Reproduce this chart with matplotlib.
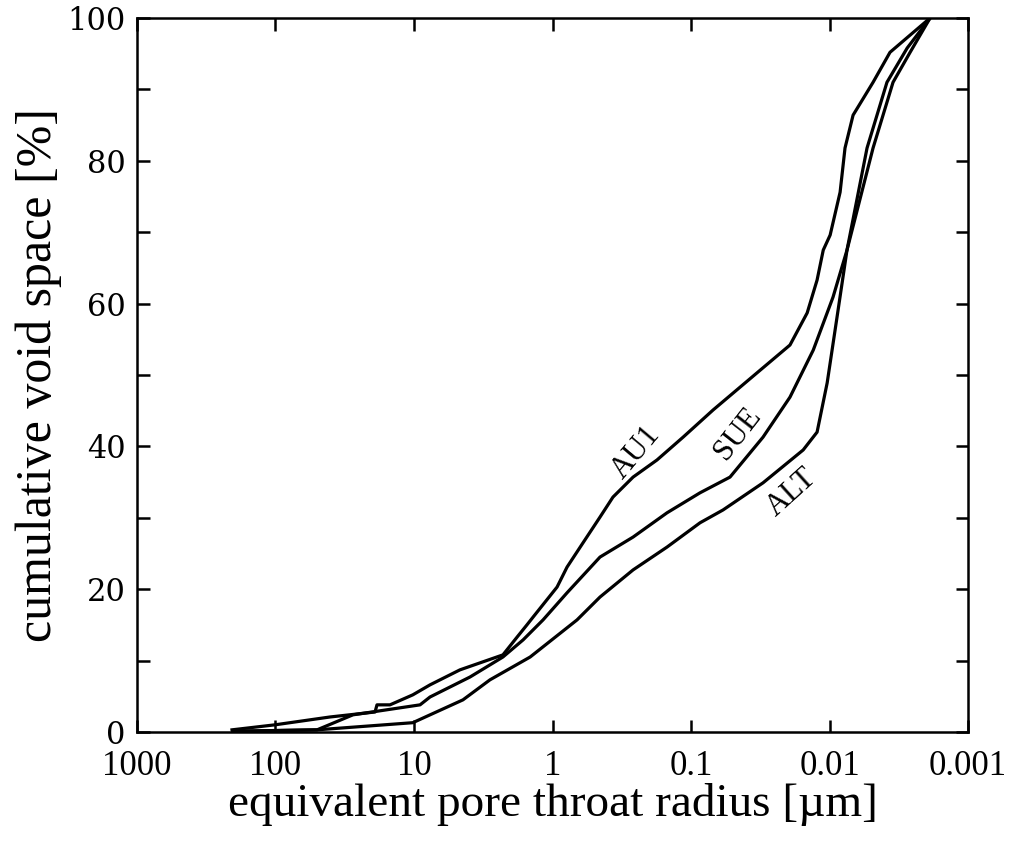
import numpy as np
import matplotlib
matplotlib.use("Agg")
import matplotlib.pyplot as plt
from matplotlib.ticker import FixedLocator, FuncFormatter, NullLocator

# pore throat radius [um] and cumulative void space [%]
au1_r = [206, 101, 40.4, 19.1, 18.5, 14.9, 10.2, 7.66, 4.66, 2.28, 1.80, 1.53, 1.38,
         0.927, 0.785, 0.602, 0.454, 0.366, 0.262, 0.176, 0.114, 0.0693, 0.0334,
         0.0193, 0.0145, 0.0123, 0.0111, 0.0099, 0.00839, 0.00773, 0.00676,
         0.00485, 0.00366, 0.00188]
au1_v = [0.3, 1.0, 2.1, 2.8, 3.8, 3.8, 5.2, 6.6, 8.7, 10.8, 13.3, 15.0, 16.1,
         20.3, 23.1, 26.5, 30.1, 32.9, 35.7, 38.1, 41.3, 45.1, 50.3,
         54.2, 58.7, 63.3, 67.5, 69.6, 75.6, 81.8, 86.4,
         91.0, 95.2, 100]

sue_r = [203, 50.1, 27.6, 9.04, 7.66, 3.94, 2.28, 1.63, 1.17, 0.785, 0.454, 0.262,
         0.149, 0.0861, 0.0523, 0.0302, 0.0193, 0.0131, 0.00944, 0.00748,
         0.00485, 0.00348, 0.00262, 0.00188]
sue_v = [0.1, 0.3, 2.4, 3.8, 4.9, 7.7, 10.5, 12.9, 15.7, 19.5, 24.5, 27.3,
         30.7, 33.5, 35.7, 41.3, 46.9, 53.5, 60.9, 67.5,
         81.8, 91.0, 95.2, 100]

alt_r = [203, 50.1, 10.2, 7.66, 4.43, 2.83, 1.45, 0.665, 0.454, 0.262, 0.149,
         0.0861, 0.0587, 0.0302, 0.0155, 0.0123, 0.0104, 0.00883, 0.00748,
         0.00536, 0.00385, 0.00275, 0.00188]
alt_v = [0.1, 0.3, 1.3, 2.4, 4.5, 7.3, 10.5, 15.7, 18.9, 22.7, 25.9,
         29.3, 31.1, 34.9, 39.5, 42.0, 48.9, 58.1, 67.5,
         81.8, 91.0, 95.8, 100]

x_ticks = [1000, 100, 10, 1, 0.1, 0.01, 0.001]

serif = "Liberation Serif"

fig = plt.figure(figsize=(10.19, 8.43), dpi=100)
ax = fig.add_axes([0.1344, 0.1317, 0.8156, 0.8469])

for r, v in [(au1_r, au1_v), (sue_r, sue_v), (alt_r, alt_v)]:
    ax.plot(r, v, color="black", lw=2.3, solid_joinstyle="round")

ax.set_xscale("log")
ax.set_xlim(1000, 0.001)
ax.set_ylim(0, 100)

ax.xaxis.set_major_locator(FixedLocator(x_ticks))
ax.xaxis.set_minor_locator(NullLocator())
ax.xaxis.set_major_formatter(FuncFormatter(lambda x, p: "%g" % x))
ax.yaxis.set_major_locator(FixedLocator(np.arange(0, 101, 10)))
ax.yaxis.set_major_formatter(FuncFormatter(lambda y, p: "%d" % y if y % 20 == 0 else ""))

ax.tick_params(which="both", direction="in", top=True, right=True,
               length=9, width=1.8, color="black")
ax.tick_params(axis="x", pad=13)
ax.tick_params(axis="y", pad=8)
for s in ax.spines.values():
    s.set_linewidth(1.8)

for lab in ax.get_xticklabels():
    lab.set_fontfamily(serif)
    lab.set_fontsize(25)
for lab in ax.get_yticklabels():
    lab.set_fontfamily("DejaVu Serif")
    lab.set_fontsize(22)

ax.set_xlabel("equivalent pore throat radius [µm]", fontsize=34,
              family=serif, labelpad=0)
ax.set_ylabel("cumulative void space [%]", fontsize=36, family=serif, labelpad=4)

ax.text(0.249, 39.2, "AU1", rotation=50, fontsize=22, family=serif,
        ha="center", va="center")
ax.text(0.0458, 41.8, "SUE", rotation=52, fontsize=22, family=serif,
        ha="center", va="center")
ax.text(0.0187, 33.6, "ALT", rotation=42, fontsize=22, family=serif,
        ha="center", va="center")

fig.savefig("out.png", dpi=100, facecolor="white")
